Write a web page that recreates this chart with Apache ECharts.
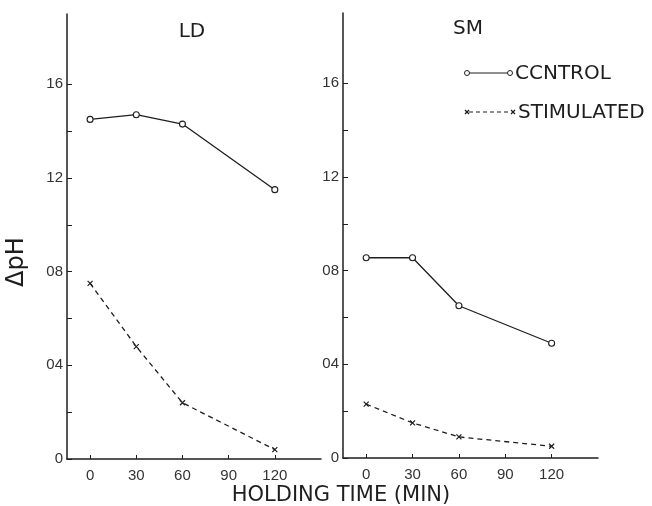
<!DOCTYPE html>
<html><head><meta charset="utf-8">
<script src="https://cdn.jsdelivr.net/npm/echarts@6/dist/echarts.min.js"></script>
<style>html,body{margin:0;padding:0;background:#fff}#c{width:652px;height:506px}</style>
</head><body><div id="c"></div>
<script>
const times = [0, 30, 60, 120];
const xTickLabels = [0, 30, 60, 90, 120];
const yTickLabels = [0, 0.4, 0.8, 1.2, 1.6];
const yMinorTicks = [0, 0.2, 0.4, 0.6, 0.8, 1.0, 1.2, 1.4, 1.6];
const panels = ['LD', 'SM'];
const ldControl = [1.45, 1.47, 1.43, 1.15];
const ldStimulated = [0.75, 0.48, 0.24, 0.04];
const smControl = [0.855, 0.855, 0.65, 0.49];
const smStimulated = [0.23, 0.15, 0.09, 0.05];
const legendNames = ['CCNTROL', 'STIMULATED'];
const xTitle = 'HOLDING TIME (MIN)';
const yTitle = '\u0394pH';

const ink = '#1e1e1e';
const font = 'Liberation Sans';
const tfont = '"DejaVu Sans"';
const pair = (xs, ys) => xs.map((x, i) => [x, ys[i]]);
const crossPath = 'path://M0,0L10,10M10,0L0,10';

function xAxis(idx) {
  return {
    type: 'value', gridIndex: idx, min: -15, max: 150,
    splitLine: {show: false},
    axisLine: {onZero: false, lineStyle: {color: ink, width: 1.5}},
    axisTick: {inside: true, length: 4, customValues: xTickLabels, lineStyle: {color: ink}},
    axisLabel: {customValues: xTickLabels, color: '#333', fontFamily: font, fontSize: 15, margin: 9}
  };
}
function yAxis(idx) {
  return {
    type: 'value', gridIndex: idx, min: 0, max: 1.9,
    splitLine: {show: false},
    axisLine: {show: true, onZero: false, lineStyle: {color: ink, width: 1.5}},
    axisTick: {show: true, inside: true, length: 5, customValues: yMinorTicks, lineStyle: {color: ink}},
    axisLabel: {customValues: yTickLabels, color: '#333', fontFamily: font, fontSize: 15, margin: 4,
      formatter: v => v === 0 ? '0' : v.toFixed(1).replace('.', '')}
  };
}
function ctrl(idx, data) {
  return {type: 'line', xAxisIndex: idx, yAxisIndex: idx, data: pair(times, data),
    symbol: 'circle', symbolSize: 6, showSymbol: true,
    lineStyle: {color: ink, width: 1.3, type: 'solid'},
    itemStyle: {color: '#fff', borderColor: ink, borderWidth: 1.1}, z: 3};
}
function stim(idx, data) {
  return {type: 'line', xAxisIndex: idx, yAxisIndex: idx, data: pair(times, data),
    symbol: crossPath, symbolSize: 5, showSymbol: true,
    lineStyle: {color: ink, width: 1.3, type: [5, 4]},
    itemStyle: {color: ink, borderColor: ink, borderWidth: 1.2}, z: 3};
}
function seg(x1, y1, x2, y2, dash) {
  return {type: 'line', shape: {x1, y1, x2, y2}, style: {stroke: ink, lineWidth: 1.2, lineDash: dash || null}};
}
function cross(cx, cy) {
  return [seg(cx - 2, cy - 2, cx + 2, cy + 2), seg(cx + 2, cy - 2, cx - 2, cy + 2)];
}

const chart = echarts.init(document.getElementById('c'), null, {renderer: 'canvas'});
chart.setOption({
  backgroundColor: '#fff',
  animation: false,
  grid: [
    {left: 67, top: 14, width: 254, bottom: 47},
    {left: 343, top: 13, width: 255, bottom: 48}
  ],
  xAxis: [xAxis(0), xAxis(1)],
  yAxis: [yAxis(0), yAxis(1)],
  series: [ctrl(0, ldControl), stim(0, ldStimulated), ctrl(1, smControl), stim(1, smStimulated)],
  graphic: [
    {type: 'text', x: 192, y: 32, style: {text: panels[0], font: '20px ' + tfont, fill: ink,
      textAlign: 'center', textVerticalAlign: 'middle'}},
    {type: 'text', x: 468, y: 29, style: {text: panels[1], font: '20px ' + tfont, fill: ink,
      textAlign: 'center', textVerticalAlign: 'middle'}},
    {type: 'text', x: 5, y: 287, rotation: Math.PI / 2,
      style: {text: yTitle, font: '24px ' + tfont, fill: ink, textVerticalAlign: 'top'}},
    {type: 'text', x: 341, y: 496, style: {text: xTitle, font: '21px ' + tfont, fill: ink,
      textAlign: 'center', textVerticalAlign: 'middle'}},
    seg(469, 73, 507, 73),
    {type: 'circle', shape: {cx: 467, cy: 73, r: 2.5}, style: {fill: '#fff', stroke: ink, lineWidth: 1}},
    {type: 'circle', shape: {cx: 510, cy: 73, r: 2.5}, style: {fill: '#fff', stroke: ink, lineWidth: 1}},
    {type: 'text', x: 515, y: 74, style: {text: legendNames[0], font: '20px ' + tfont, fill: ink,
      textVerticalAlign: 'middle'}},
    seg(469, 112, 511, 112, [4, 3]),
    ...cross(467, 112),
    ...cross(513, 112),
    {type: 'text', x: 518, y: 113, style: {text: legendNames[1], font: '20px ' + tfont, fill: ink,
      textVerticalAlign: 'middle'}}
  ]
});
</script></body></html>
